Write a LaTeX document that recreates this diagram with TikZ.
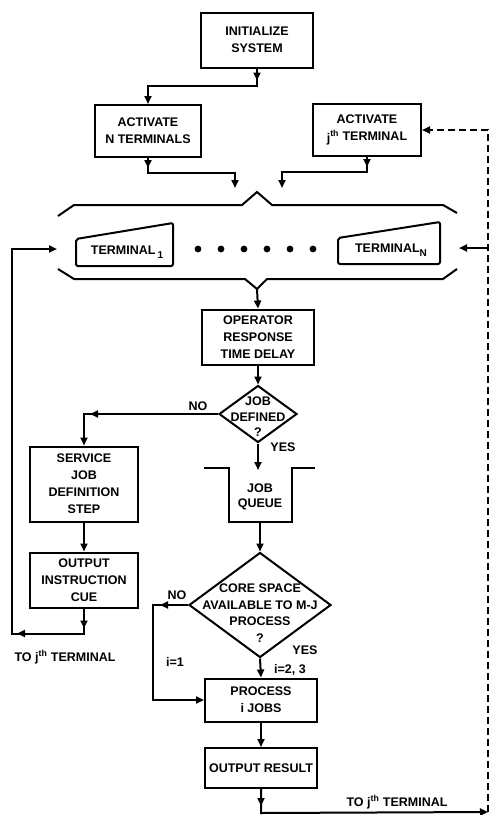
\documentclass[tikz,border=0pt]{standalone}
\usepackage{fontspec}
\setmainfont{Liberation Sans}
\usetikzlibrary{positioning, arrows.meta, shapes.geometric, decorations.markings}

\begin{document}
\begin{tikzpicture}[x=1pt, y=-1pt,
    font=\fontsize{12.5}{17}\selectfont\bfseries,
    box/.style={draw, line width=2pt, align=center, inner sep=0pt},
    dec/.style={draw, diamond, line width=2pt, inner sep=0pt},
    txt/.style={align=center, inner sep=0pt, font=\fontsize{12.5}{15.5}\selectfont\bfseries},
    lbl/.style={inner sep=1pt},
    line/.style={line width=2pt},
    arr/.style={line, -{Triangle[length=8pt, width=7pt]}},
    tip/.style={postaction={decorate, decoration={markings,
        mark=at position #1 with {\arrow{Triangle[length=8pt, width=7pt]}}}}}
  ]
  \useasboundingbox (0,0) rectangle (490,815);

  % upper part
  \node[box, minimum width=112pt, minimum height=55pt] (init) at (257,40) {INITIALIZE\\SYSTEM};
  \node[box, minimum width=106pt, minimum height=52pt] (actn) at (148,131) {ACTIVATE\\N TERMINALS};
  \node[box, minimum width=108pt, minimum height=52pt] (actj) at (367,130)
       {ACTIVATE\\\raisebox{-2pt}{j}\textsuperscript{th} TERMINAL};

  % terminal group
  \coordinate (gin1) at (235,188);
  \coordinate (gin2) at (282,188);
  \coordinate (gl) at (57,249);
  \coordinate (gr) at (459,248);
  \coordinate (gout) at (257,289);
  \draw[line] (58,216) -- (74,205) -- (242,205) -- (257,192) -- (272,205) -- (443,205) -- (457,213);
  \draw[line] (58,269) -- (74,279) -- (245,279) -- (257,289) -- (267,279) -- (443,279) -- (457,269);
  \draw[line, rounded corners=2pt] (173,223) -- (173,266) -- (76,266) -- (76,239) -- cycle;
  \draw[line, rounded corners=2pt] (440,222) -- (440,264) -- (338,264) -- (338,238) -- cycle;
  \node (t1) at (127,252) {TERMINAL\,\raisebox{-4pt}{\fontsize{10}{10}\selectfont 1}};
  \node (tn) at (391,250) {TERMINAL\raisebox{-4pt}{\fontsize{10}{10}\selectfont N}};
  \foreach \x in {0,...,5}
    \fill (198+\x*23,249) circle (3.4pt);

  % middle
  \node[box, minimum width=112pt, minimum height=55pt] (oper) at (258,337) {OPERATOR\\RESPONSE\\TIME DELAY};
  \node[dec, minimum width=78pt, minimum height=57pt] (jd) at (258,414) {};
  \node[txt] (jdt) at (258,417) {JOB\\DEFINED\\?};
  \node[box, minimum width=108pt, minimum height=75pt] (serv) at (84,484) {SERVICE\\JOB\\DEFINITION\\STEP};
  \node[box, minimum width=108pt, minimum height=55pt] (cue) at (84,580) {OUTPUT\\INSTRUCTION\\CUE};

  \coordinate (qin) at (258,470);
  \coordinate (qout) at (260,522);
  \draw[line] (204,468) -- (229,468) -- (229,522) -- (292,522) -- (292,468) -- (315,468);
  \node[txt] (queue) at (260,497) {JOB\\QUEUE};

  % lower part
  \node[dec, minimum width=142pt, minimum height=105pt] (cs) at (260,605) {};
  \node[txt, font=\fontsize{12.5}{16.5}\selectfont\bfseries] (cst) at (260,613)
       {CORE SPACE\\AVAILABLE TO M-J\\PROCESS\\?};
  \node[box, minimum width=112pt, minimum height=43pt] (proc) at (261,700) {PROCESS\\i JOBS};
  \node[box, minimum width=112pt, minimum height=40pt] (res) at (261,768) {OUTPUT RESULT};

  \coordinate (rc) at (488,812);
  \coordinate (rm) at (488,248);

  % connectors
  \draw[arr, tip=12pt] (init.south) -- ++(0,17) -| (actn.north);
  \draw[arr, tip=10pt] (actn.south) -- ++(0,15) -| (gin1);
  \draw[arr, tip=10pt] (actj.south) -- ++(0,15) -| (gin2);
  \draw[arr] (gout) -- (oper.north);
  \draw[arr] (oper.south) -- (jd.north);
  \draw[arr, tip=128pt] (jd.west) -| (serv.north);
  \node[lbl] (no1) at (198,406) {NO};
  \draw[arr] (jd.south) -- (qin);
  \node[lbl] (yes1) at (283,447) {YES};
  \draw[arr] (qout) -- (cs.north);
  \draw[arr] (serv.south) -- (cue.north);
  \draw[arr, tip=20pt, tip=92pt] (cue.south) -- ++(0,25) -| (12,249) -- (gl);
  \node[lbl] (back1) at (65,657) {TO j\textsuperscript{th} TERMINAL};
  \draw[arr, tip=28pt] (cs.west) -- ++(-35,0) |- (proc.west);
  \node[lbl] (no2) at (177,595) {NO};
  \node[lbl] (i1) at (175,662) {i=1};
  \draw[arr] (cs.south) -- (proc.north);
  \node[lbl] (yes2) at (305,650) {YES};
  \node[lbl] (i23) at (290,670) {i=2, 3};
  \draw[arr] (proc.south) -- (res.north);
  \draw[arr, tip=17pt] (res.south) -- ++(0,24) -- (rc);
  \node[lbl] (back2) at (397,802) {TO j\textsuperscript{th} TERMINAL};
  \draw[arr, dash pattern=on 7pt off 4pt] (rc) |- (actj.east);
  \draw[arr] (rm) -- (gr);
\end{tikzpicture}
\end{document}
